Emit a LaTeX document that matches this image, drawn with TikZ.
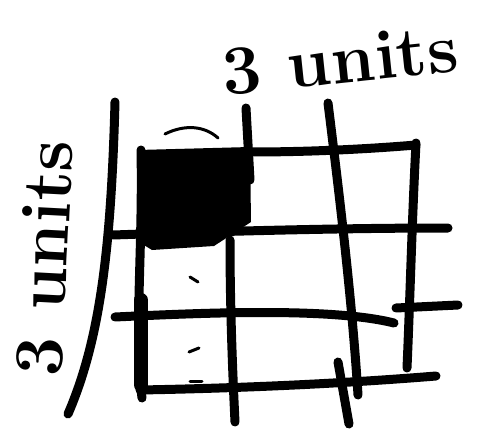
\documentclass[tikz,border=0pt]{standalone}
\begin{document}
\begin{tikzpicture}[x=1pt,y=-1pt,
  pen/.style={line width=9pt,line cap=round,line join=round,black},
  thin pen/.style={line width=3pt,line cap=round},
  hand/.style={font=\fontsize{70}{70}\selectfont\bfseries,inner sep=0pt}]
\useasboundingbox (0,0) rectangle (485,431);
% left long curve
\draw[pen] (115,102) .. controls (111,250) and (100,340) .. (68,414);
% filled square
\fill (138,150) -- (250,147) -- (251,222) -- (214,246) -- (152,250) -- (139,242) -- cycle;
\draw[line width=14pt,line cap=round] (141,300) -- (141,385);
% arc above square
\draw[thin pen] (165,134) .. controls (185,124) and (205,126) .. (218,138);
% verticals
\draw[pen] (141,150) .. controls (143,250) and (134,330) .. (142,398);
\draw[pen] (246,108) -- (250,180);
\draw[pen] (230,240) .. controls (230,300) and (232,360) .. (235,422);
\draw[pen] (328,103) .. controls (340,200) and (352,300) .. (358,395);
\draw[pen] (338,362) -- (349,424);
\draw[pen] (416,143) .. controls (412,220) and (410,300) .. (407,368);
% horizontals
\draw[pen] (250,152) .. controls (320,152) and (380,148) .. (416,145);
\draw[pen] (113,235) .. controls (200,232) and (330,228) .. (448,228);
\draw[pen] (115,317) .. controls (200,313) and (330,307) .. (394,323);
\draw[pen] (396,308) -- (458,305);
\draw[pen] (140,390) .. controls (250,388) and (350,383) .. (436,376);
% small marks
\draw[thin pen] (190,277) -- (198,282);
\draw[thin pen] (189,352) -- (199,348);
\draw[thin pen] (190,381) -- (202,381);
% labels
\node[hand,rotate=6] (top) at (340,60) {3 units};
\node[hand,rotate=87] (left) at (44,258) {3 units};
\end{tikzpicture}
\end{document}
